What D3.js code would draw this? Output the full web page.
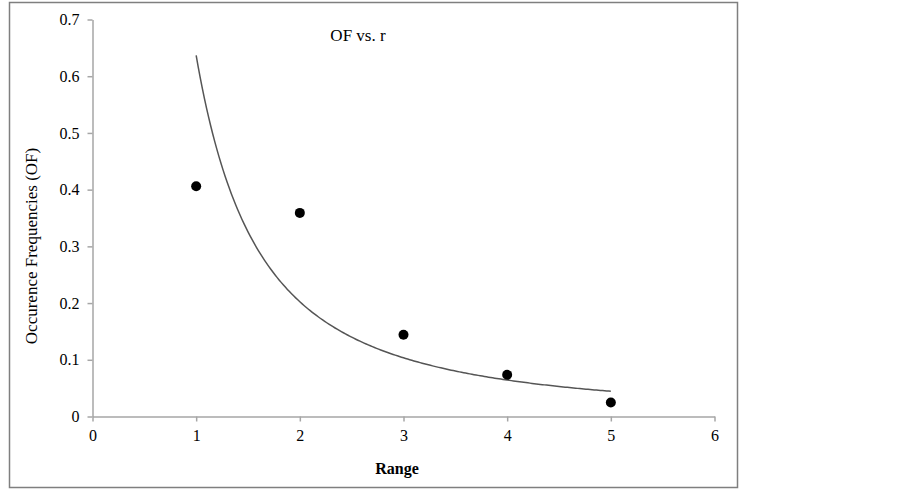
<!DOCTYPE html>
<html><head><meta charset="utf-8">
<script src="https://cdn.jsdelivr.net/npm/d3@7"></script>
<style>body{margin:0;background:#fff}svg{display:block;font-family:"Liberation Serif","Times New Roman",serif}</style>
</head><body>
<svg id="c" width="902" height="490"></svg>
<script>
const rangeX = [1, 2, 3, 4, 5];
const ofValues = [0.406, 0.359, 0.144, 0.0735, 0.0247];
const xTicks = [0, 1, 2, 3, 4, 5, 6];
const yTicks = [0, 0.1, 0.2, 0.3, 0.4, 0.5, 0.6, 0.7];
const title = "OF vs. r";
const xTitle = "Range";
const yTitle = "Occurence Frequencies (OF)";

const svg = d3.select("#c");
svg.append("rect").attr("x", 9.5).attr("y", 2.5).attr("width", 728).attr("height", 485)
  .attr("fill", "#fff").attr("stroke", "#7f7f7f").attr("stroke-width", 1.5);

const x = d3.scaleLinear().domain([0, 6]).range([92.5, 714.5]);
const y = d3.scaleLinear().domain([0, 0.7]).range([416.5, 19.5]);
const axisColor = "#a6a6a6";

const gx = svg.append("g").attr("transform", `translate(0,${y(0)})`)
  .call(d3.axisBottom(x).tickValues(xTicks).tickSize(5).tickSizeOuter(0).tickPadding(8).tickFormat(d3.format("d")));
const gy = svg.append("g").attr("transform", `translate(${x(0)},0)`)
  .call(d3.axisLeft(y).tickValues(yTicks).tickSize(5).tickSizeOuter(0).tickPadding(8).tickFormat(d => d === 0 ? "0" : d3.format(".1f")(d)));
[gx, gy].forEach(g => {
  g.selectAll(".domain,line").attr("stroke", axisColor).attr("stroke-width", 1.5);
  g.selectAll("text").attr("font-family", "Liberation Serif").attr("font-size", 16).attr("fill", "#000");
});
gx.selectAll("text").attr("dy", "0.71em");

// Power trendline fitted (least squares in log-log) from the data, like the source spreadsheet
const lx = rangeX.map(Math.log), ly = ofValues.map(Math.log);
const mx = d3.mean(lx), my = d3.mean(ly);
const b = d3.sum(lx.map((v, i) => (v - mx) * (ly[i] - my))) / d3.sum(lx.map(v => (v - mx) ** 2));
const a = Math.exp(my - b * mx);
const fitX = d3.range(0, 201).map(i => 1 + i * 4 / 200);
svg.append("path").datum(fitX)
  .attr("d", d3.line().x(d => x(d)).y(d => y(a * Math.pow(d, b))))
  .attr("fill", "none").attr("stroke", "#555").attr("stroke-width", 1.5);

svg.selectAll("circle.pt").data(rangeX).join("circle").attr("class", "pt")
  .attr("cx", d => x(d)).attr("cy", (d, i) => y(ofValues[i])).attr("r", 5).attr("fill", "#000");

svg.append("text").attr("x", 358).attr("y", 41).attr("text-anchor", "middle")
  .attr("font-size", 17).text(title);
svg.append("text").attr("x", 397).attr("y", 474).attr("text-anchor", "middle")
  .attr("font-size", 16).attr("font-weight", "bold").text(xTitle);
svg.append("text").attr("transform", "translate(37,246) rotate(-90)").attr("text-anchor", "middle")
  .attr("font-size", 17).text(yTitle);
</script>
</body></html>
